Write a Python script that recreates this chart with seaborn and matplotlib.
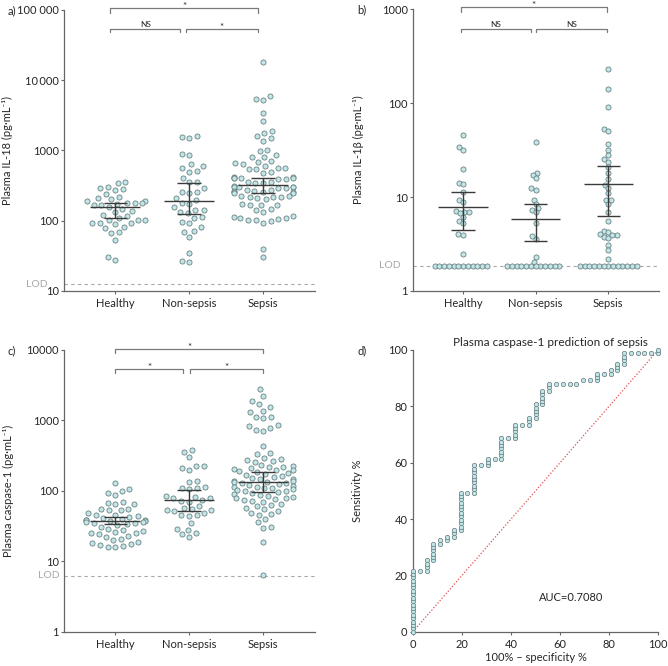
import warnings
warnings.filterwarnings("ignore")
import numpy as np
import pandas as pd
import matplotlib
matplotlib.use("Agg")
import matplotlib.pyplot as plt
import matplotlib.transforms as mtransforms
from matplotlib.ticker import NullLocator
import seaborn as sns

groups = ["Healthy", "Non-sepsis", "Sepsis"]

# ---------------- a) Plasma IL-18 (pg/mL) ----------------
il18_healthy = [360, 346, 306, 288, 280, 274, 240, 216, 208, 202, 193, 193, 181, 181,
                177, 171, 167, 167, 158, 145, 139, 135, 121, 117, 110, 102, 102, 102,
                94, 92, 92, 89, 82, 78, 70, 66, 54, 30, 28]
il18_nonsepsis = [1620, 1540, 1490, 883, 863, 635, 601, 556, 510, 500, 410, 352, 352,
                  289, 259, 254, 245, 208, 200, 177, 173, 155, 142, 142, 135, 128, 112,
                  111, 97, 92, 81, 72, 70, 59, 35, 27, 26]
il18_sepsis = [18400, 5970, 5400, 5240, 3460, 2660, 1890, 1800, 1610, 1490, 1380, 1020,
               980, 860, 810, 800, 710, 690, 655, 650, 610, 570, 560, 550, 540, 490, 480,
               420, 415, 410, 405, 400, 400, 395, 390, 360, 355, 350, 345,
               310, 305, 300, 300, 298, 295, 290, 275, 270, 265, 262, 260, 258, 255, 250,
               245, 225, 222, 220, 218, 215, 212, 205, 175, 170, 168, 165, 145, 140, 135,
               115, 112, 110, 108, 105, 104, 102, 100, 94, 40, 30]
il18_center = [155, 191, 323]
il18_low = [108, 123, 251]
il18_high = [177, 348, 401]
il18_lod = 12.4

# ---------------- b) Plasma IL-1beta (pg/mL) ----------------
il1b_healthy = [46, 34, 32, 20, 14.2, 13.7, 11.4, 9.2, 8.8, 7.1, 7.0, 6.9, 6.7, 6.2,
                5.6, 5.3, 4.0, 3.9, 2.46,
                1.85, 1.85, 1.85, 1.85, 1.85, 1.85, 1.85, 1.85, 1.85, 1.85, 1.85, 1.85]
il1b_nonsepsis = [39, 18.2, 17.2, 15.8, 12.4, 11.9, 9.3, 8.4, 7.6, 7.3, 6.9, 5.3,
                  3.85, 3.55, 2.3, 2.05,
                  1.85, 1.85, 1.85, 1.85, 1.85, 1.85, 1.85, 1.85, 1.85, 1.85, 1.85, 1.85]
il1b_sepsis = [230, 142, 90, 53, 51, 36.5, 31.8, 28.1, 25.4, 23.8, 21.1, 17.9, 15.4,
               13.4, 12.4, 11.0, 9.3, 9.3, 8.4, 7.0, 5.6, 4.4, 4.2, 4.0, 3.95, 3.9,
               3.8, 3.64, 3.1, 2.73, 2.17,
               1.85, 1.85, 1.85, 1.85, 1.85, 1.85, 1.85, 1.85, 1.85, 1.85, 1.85, 1.85, 1.85]
il1b_center = [7.8, 5.85, 13.8]
il1b_low = [4.46, 3.44, 6.35]
il1b_high = [11.2, 8.44, 21.4]
il1b_lod = 1.85

# ---------------- c) Plasma caspase-1 (pg/mL) ----------------
casp_healthy = [131, 105, 100, 92, 87, 70, 68, 65, 64, 55, 55, 53, 53, 49, 46, 45, 44,
                43, 41, 40, 39, 38, 38, 37, 37, 36, 36, 35, 35, 34, 33, 31, 29, 28, 27,
                26, 25, 25, 24, 23, 22, 21, 20, 19, 18, 17.5, 17, 16.5, 16, 15.8]
casp_nonsepsis = [380, 360, 300, 228, 225, 210, 200, 138, 135, 115, 110, 108, 105, 85,
                  82, 80, 78, 75, 72, 70, 60, 58, 55, 54, 53, 52, 48, 46, 45, 44, 35,
                  29, 28, 25, 24, 22]
casp_sepsis = [2800, 2250, 1900, 1700, 1570, 1380, 1300, 1130, 1100, 1070, 850, 830,
               770, 720, 700, 430, 340, 330, 290, 280, 270, 265, 260, 230, 225, 220,
               215, 210, 205, 200, 195, 190, 185, 180, 175, 170, 160, 155, 150, 148,
               145, 140, 138, 135, 132, 130, 128, 125, 120, 118, 115, 112, 110, 108,
               105, 102, 100, 98, 95, 92, 90, 88, 85, 82, 80, 78, 76, 75, 72, 70, 65,
               62, 60, 58, 55, 52, 49, 47, 46, 40, 36, 31, 30, 19, 6.3]
casp_center = [37.3, 74, 132]
casp_low = [33.8, 51.9, 95]
casp_high = [42, 102, 187]
casp_lod = 6.24

# ---------------- d) ROC: caspase-1 prediction of sepsis ----------------
roc_fpr_steps = [0, 2.8, 5.6, 8.3, 11.1, 13.9, 16.7, 19.4, 22.2, 25.0, 27.8, 30.6,
                 33.3, 36.1, 38.9, 41.7, 44.4, 47.2, 50.0, 52.8, 55.6, 58.3, 61.1,
                 63.9, 66.7, 69.4, 72.2, 75.0, 77.8, 80.6, 83.3, 86.1, 88.9, 91.7,
                 94.4, 97.2, 100]
roc_tpr_steps = [
    [0.0, 1.2, 2.4, 3.6, 4.8, 6.0, 7.2, 8.4, 9.6, 10.8, 12.0, 13.3, 14.5, 15.7,
     16.9, 18.1, 19.3, 20.5, 21.7],
    [21.7],
    [21.7, 22.9, 24.1, 25.3],
    [25.3, 26.5, 27.7, 28.9, 30.1, 31.3],
    [31.3, 32.5],
    [32.5, 33.7],
    [33.7, 34.9, 36.1],
    [36.1, 37.3, 38.6, 39.8, 41.0, 42.2, 43.4, 44.6, 45.8, 47.0, 48.2, 49.4],
    [49.4],
    [49.4, 50.6, 51.8, 53.0, 54.2, 55.4, 56.6, 57.8, 59.0],
    [59.0],
    [59.0, 60.2, 61.4],
    [61.4],
    [61.4, 62.7, 63.9, 65.1, 66.3, 67.5, 68.7],
    [68.7],
    [68.7, 69.9, 71.1, 72.3, 73.5],
    [73.5],
    [73.5, 74.7, 75.9],
    [75.9, 77.1, 78.3, 79.5, 80.7],
    [80.7, 81.9, 83.1, 84.3, 85.5],
    [85.5, 86.7, 88.0],
    [88.0], [88.0], [88.0], [88.0],
    [89.2], [89.2],
    [89.2, 90.4, 91.6],
    [91.6],
    [91.6, 92.8],
    [92.8, 94.0, 95.2],
    [95.2, 96.4, 97.6, 98.8],
    [98.8], [98.8], [98.8], [98.8],
    [98.8, 100.0],
]
auc_text = "AUC=0.7080"

# ---------------- style ----------------
sns.set_theme(style="ticks")
plt.rcParams["font.family"] = ["Lato", "DejaVu Sans"]
plt.rcParams["axes.unicode_minus"] = False

FACE = "#c2e6e8"
EDGE = "#62797b"
LINE = "#3a3a3a"
SPINE = "#666666"
TXT = "#262626"
LODC = "#a8a8a8"
BRK = "#7a7a7a"
MARK = 3.7   # final marker diameter (pt)

fig = plt.figure(figsize=(6.68, 6.66), dpi=100)
ax_a = fig.add_axes([0.0963, 0.5631, 0.3753, 0.4219])
ax_b = fig.add_axes([0.6183, 0.5631, 0.3683, 0.4230])
ax_c = fig.add_axes([0.0963, 0.0515, 0.3753, 0.4230])
ax_d = fig.add_axes([0.6183, 0.0515, 0.3668, 0.4230])


def make_df(h, n, s):
    return pd.DataFrame({
        "group": [groups[0]] * len(h) + [groups[1]] * len(n) + [groups[2]] * len(s),
        "value": list(h) + list(n) + list(s),
    })


def style_axis(ax):
    sns.despine(ax=ax)
    for sp in ("left", "bottom"):
        ax.spines[sp].set_color(SPINE)
        ax.spines[sp].set_linewidth(0.9)
    ax.tick_params(axis="both", length=2.4, width=0.8, color=SPINE,
                   labelcolor=TXT, labelsize=8)
    ax.tick_params(axis="y", pad=1.5)
    ax.tick_params(axis="x", pad=2.5)


def dot_panel(ax, df, center, low, high, lod, lod_x, ylim, yticks, yticklabels,
              ylabel, brackets, place_size):
    sns.swarmplot(data=df, x="group", y="value", order=groups, ax=ax,
                  log_scale=True, size=place_size, color=FACE, edgecolor=EDGE,
                  linewidth=0.55, warn_thresh=1, zorder=3)
    ax.set_xlim(-0.69, 2.70)
    ax.set_ylim(*ylim)
    ax.set_yticks(yticks)
    ax.set_yticklabels(yticklabels)
    ax.yaxis.set_minor_locator(NullLocator())
    ax.set_xlabel("")
    ax.set_ylabel(ylabel, fontsize=8, color=TXT)
    ax.yaxis.set_label_coords(-0.203, 0.5)
    style_axis(ax)
    # median and CI
    for i in range(3):
        ax.hlines(center[i], i - 0.34, i + 0.34, color=LINE, lw=1.0, zorder=5)
        ax.hlines([low[i], high[i]], i - 0.16, i + 0.16, color=LINE, lw=1.0, zorder=5)
        ax.vlines(i, low[i], high[i], color=LINE, lw=1.0, zorder=5)
    # LOD
    ax.axhline(lod, color=LODC, ls=(0, (3, 3)), lw=0.8, zorder=1)
    tr = mtransforms.blended_transform_factory(ax.transAxes, ax.transData)
    ax.text(lod_x, lod, "LOD", transform=tr, ha="right", va="center",
            color=LODC, fontsize=7.5, clip_on=False)
    # significance brackets
    btr = mtransforms.blended_transform_factory(ax.transData, ax.transAxes)
    for x0, x1, yb, yt, lab in brackets:
        ax.plot([x0, x0, x1, x1], [yt, yb, yb, yt], color=BRK, lw=0.9,
                transform=btr, clip_on=False)
        fs = 6 if lab == "NS" else 7
        off = mtransforms.offset_copy(btr, fig=fig, x=0, y=1.2 if lab == "NS" else -0.5,
                                      units="points")
        ax.text((x0 + x1) / 2, yb, lab, transform=off, ha="center", va="baseline",
                fontsize=fs, color=TXT, clip_on=False)


dot_panel(ax_a, make_df(il18_healthy, il18_nonsepsis, il18_sepsis),
          il18_center, il18_low, il18_high, il18_lod, -0.065,
          (10, 100000), [10, 100, 1000, 10000, 100000],
          ["10", "100", "1000", "10\u2009000", "100 000"],
          "Plasma IL-18 (pg\u00b7mL\u207b\u00b9)",
          [(-0.07, 1.93, 1.006, 0.990, "*"), (-0.07, 0.88, 0.932, 0.920, "NS"),
           (0.95, 1.93, 0.932, 0.920, "*")], 4.8)

dot_panel(ax_b, make_df(il1b_healthy, il1b_nonsepsis, il1b_sepsis),
          il1b_center, il1b_low, il1b_high, il1b_lod, -0.049,
          (1, 1000), [1, 10, 100, 1000], ["1", "10", "100", "1000"],
          "Plasma IL-1\u03b2 (pg\u00b7mL\u207b\u00b9)",
          [(-0.03, 1.98, 1.007, 0.992, "*"), (-0.03, 0.93, 0.930, 0.918, "NS"),
           (1.0, 1.98, 0.930, 0.918, "NS")], 2.7)
ax_b.yaxis.set_label_coords(-0.199, 0.5)

dot_panel(ax_c, make_df(casp_healthy, casp_nonsepsis, casp_sepsis),
          casp_center, casp_low, casp_high, casp_lod, -0.017,
          (1, 10000), [1, 10, 100, 1000, 10000], ["1", "10", "100", "1000", "10000"],
          "Plasma caspase-1 (pg\u00b7mL\u207b\u00b9)",
          [(0.0, 2.0, 1.0035, 0.988, "*"), (0.0, 0.92, 0.932, 0.917, "*"),
           (1.01, 2.0, 0.932, 0.917, "*")], 4.8)
ax_c.yaxis.set_label_coords(-0.200, 0.5)

# ---------------- d) ROC panel ----------------
roc_fpr, roc_tpr = [], []
for fx, col in zip(roc_fpr_steps, roc_tpr_steps):
    for ty in col:
        roc_fpr.append(fx)
        roc_tpr.append(ty)
roc_df = pd.DataFrame({"fpr": roc_fpr, "tpr": roc_tpr})

sns.lineplot(x=[0, 100], y=[0, 100], ax=ax_d, color="#e0504f", lw=0.9,
             linestyle=(0, (1, 1.5)), zorder=2)
sns.scatterplot(data=roc_df, x="fpr", y="tpr", ax=ax_d, s=10, color=FACE,
                edgecolor=EDGE, linewidth=0.5, zorder=4, clip_on=False)
ax_d.set_xlim(0, 100)
ax_d.set_ylim(0, 100)
ax_d.set_xticks([0, 20, 40, 60, 80, 100])
ax_d.set_yticks([0, 20, 40, 60, 80, 100])
style_axis(ax_d)
ax_d.set_xlabel("100% \u2013 specificity %", fontsize=8, color=TXT, labelpad=2)
ax_d.set_ylabel("Sensitivity %", fontsize=8, color=TXT)
ax_d.yaxis.set_label_coords(-0.206, 0.5)
ax_d.set_title("Plasma caspase-1 prediction of sepsis", fontsize=8.5, color=TXT,
               pad=3, x=0.56)
ax_d.text(64.6, 12.2, auc_text, ha="center", va="center", fontsize=8, color=TXT)

# panel letters
for lab, (px, py) in {"a)": (8, 11), "b)": (357, 10), "c)": (8, 351),
                      "d)": (357, 351)}.items():
    fig.text(px / 668, 1 - py / 666, lab, ha="left", va="center", fontsize=8, color=TXT)

# compute swarm positions with generous spacing, then freeze & shrink markers
fig.canvas.draw()
for ax in (ax_a, ax_b, ax_c):
    for coll in ax.collections:
        if "draw" in coll.__dict__:
            del coll.draw
            coll.set_sizes([MARK ** 2])

fig.savefig("out.png", dpi=100)
